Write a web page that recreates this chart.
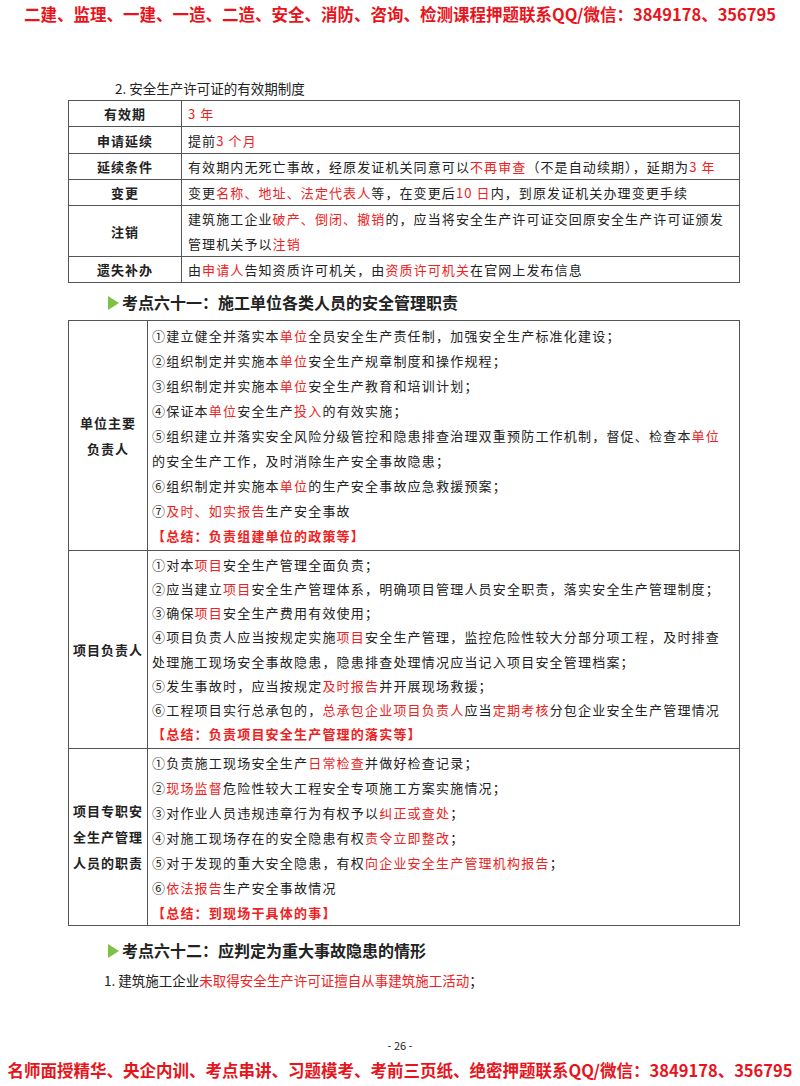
<!DOCTYPE html>
<html lang="zh-CN">
<head>
<meta charset="utf-8">
<script src="https://cdn.jsdelivr.net/npm/chart.js@4"></script>
<style>
  body { margin:0; width:800px; height:1086px; background:#fff; position:relative;
         font-family:"Noto Sans CJK SC", sans-serif; color:#222; overflow:hidden; }
  .abs { position:absolute; }
  .banner { left:0; width:800px; text-align:center; color:#e8141b; font-weight:bold; font-size:16.5px; }
  .r { color:#ee2222; }
  table { position:absolute; left:68px; width:672px; border-collapse:collapse; font-size:13px; }
  td { border:1.5px solid #555; padding:0 6px; vertical-align:middle; }
  td.k { text-align:center; font-weight:bold; }
  .h { left:108px; font-size:16px; font-weight:bold; }
  .h::before { content:""; display:inline-block; width:0; height:0; border-left:11px solid #7cc243;
               border-top:7px solid transparent; border-bottom:7px solid transparent; margin-right:3px; vertical-align:-1px; }
</style>
</head>
<body>
<div class="abs banner" style="top:2px">二建、监理、一建、一造、二造、安全、消防、咨询、检测课程押题联系QQ/微信：3849178、356795</div>
<div class="abs" style="left:115px;top:78px;font-size:13.5px">2. 安全生产许可证的有效期制度</div>
<table id="t1" style="top:100px"></table>
<div class="abs h" style="top:290px">考点六十一：施工单位各类人员的安全管理职责</div>
<table id="t2" style="top:320px"></table>
<div class="abs h" style="top:938px">考点六十二：应判定为重大事故隐患的情形</div>
<div class="abs" style="left:104px;top:970px;font-size:13.5px">1. 建筑施工企业<span class="r">未取得安全生产许可证擅自从事建筑施工活动</span>；</div>
<div class="abs" style="left:0;width:800px;text-align:center;top:1037px;font-size:11px">- 26 -</div>
<div class="abs banner" style="top:1058px">名师面授精华、央企内训、考点串讲、习题模考、考前三页纸、绝密押题联系QQ/微信：3849178、356795</div>
<script>
// {…} 内为红字
var t1Keys = ['有效期', '申请延续', '延续条件', '变更', '注销', '遗失补办'];
var t1Vals = [
  '{3 年}',
  '提前{3 个月}',
  '有效期内无死亡事故，经原发证机关同意可以{不再审查}（不是自动续期），延期为{3 年}',
  '变更{名称、地址、法定代表人}等，在变更后{10 日}内，到原发证机关办理变更手续',
  '建筑施工企业{破产、倒闭、撤销}的，应当将安全生产许可证交回原安全生产许可证颁发<br>管理机关予以{注销}',
  '由{申请人}告知资质许可机关，由{资质许可机关}在官网上发布信息'
];
var t1Heights = [26, 27, 26, 26, 51, 26];

var t2Keys = ['单位主要<br>负责人', '项目负责人', '项目专职安<br>全生产管理<br>人员的职责'];
var t2Heights = [230, 198, 177];
var t2Lines = [
  ['①建立健全并落实本{单位}全员安全生产责任制，加强安全生产标准化建设；',
   '②组织制定并实施本{单位}安全生产规章制度和操作规程；',
   '③组织制定并实施本{单位}安全生产教育和培训计划；',
   '④保证本{单位}安全生产{投入}的有效实施；',
   '⑤组织建立并落实安全风险分级管控和隐患排查治理双重预防工作机制，督促、检查本{单位}',
   '的安全生产工作，及时消除生产安全事故隐患；',
   '⑥组织制定并实施本{单位}的生产安全事故应急救援预案；',
   '⑦{及时、如实报告}生产安全事故',
   '{【总结：负责组建单位的政策等】}'],
  ['①对本{项目}安全生产管理全面负责；',
   '②应当建立{项目}安全生产管理体系，明确项目管理人员安全职责，落实安全生产管理制度；',
   '③确保{项目}安全生产费用有效使用；',
   '④项目负责人应当按规定实施{项目}安全生产管理，监控危险性较大分部分项工程，及时排查',
   '处理施工现场安全事故隐患，隐患排查处理情况应当记入项目安全管理档案；',
   '⑤发生事故时，应当按规定{及时报告}并开展现场救援；',
   '⑥工程项目实行总承包的，{总承包企业项目负责人}应当{定期考核}分包企业安全生产管理情况',
   '{【总结：负责项目安全生产管理的落实等】}'],
  ['①负责施工现场安全生产{日常检查}并做好检查记录；',
   '②{现场监督}危险性较大工程安全专项施工方案实施情况；',
   '③对作业人员违规违章行为有权予以{纠正或查处}；',
   '④对施工现场存在的安全隐患有权{责令立即整改}；',
   '⑤对于发现的重大安全隐患，有权{向企业安全生产管理机构报告}；',
   '⑥{依法报告}生产安全事故情况',
   '{【总结：到现场干具体的事】}']
];

function red(s) { return s.replace(/\{([^}]*)\}/g, '<span class="r">$1</span>'); }

var t1 = document.getElementById('t1');
t1Keys.forEach(function (k, i) {
  t1.insertAdjacentHTML('beforeend', '<tr style="height:' + t1Heights[i] + 'px"><td class="k" style="width:100px;letter-spacing:1px">' + k +
    '</td><td style="line-height:25px;letter-spacing:1.1px">' + red(t1Vals[i]) + '</td></tr>');
});

var t2 = document.getElementById('t2');
t2Keys.forEach(function (k, i) {
  var lh = i === 1 ? 24.2 : 25;
  var body = t2Lines[i].map(function (l) {
    var s = red(l);
    if (l.indexOf('{【') === 0) s = '<b>' + s + '</b>';
    return '<div style="white-space:nowrap">' + s + '</div>';
  }).join('');
  t2.insertAdjacentHTML('beforeend', '<tr style="height:' + t2Heights[i] + 'px"><td class="k" style="width:74px;line-height:26px;padding:0 2px;letter-spacing:1px">' + k +
    '</td><td style="line-height:' + lh + 'px;padding:0 4px;letter-spacing:1.2px">' + body + '</td></tr>');
});
</script>
</body>
</html>
